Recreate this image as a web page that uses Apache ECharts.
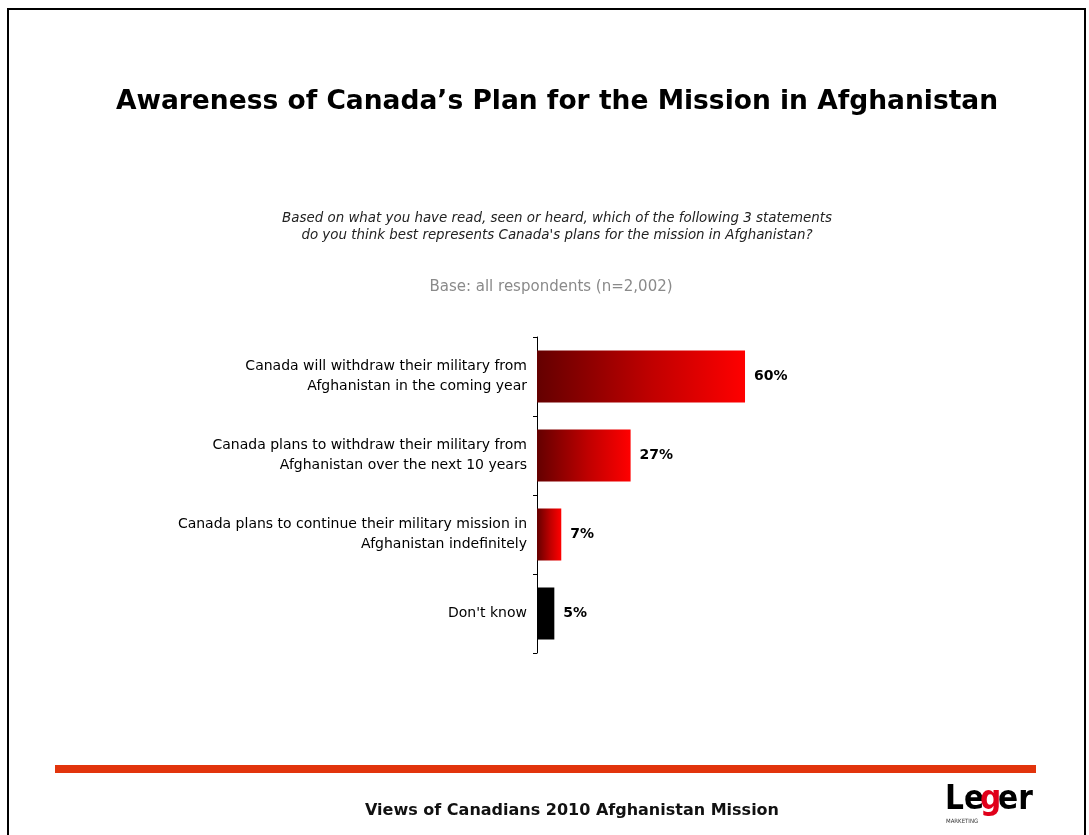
<!DOCTYPE html>
<html>
<head>
<meta charset="utf-8">
<script src="https://cdn.jsdelivr.net/npm/echarts@6/dist/echarts.min.js"></script>
<style>html,body{margin:0;padding:0;background:#fff}#c{width:1089px;height:835px}</style>
</head>
<body>
<div id="c"></div>
<script>
const categories = [
  "Canada will withdraw their military from\nAfghanistan in the coming year",
  "Canada plans to withdraw their military from\nAfghanistan over the next 10 years",
  "Canada plans to continue their military mission in\nAfghanistan indefinitely",
  "Don't know"
];
const values = [60, 27, 7, 5];
const barKinds = ["gradient", "gradient", "gradient", "black"];

const chart = echarts.init(document.getElementById('c'));
const grad = () => new echarts.graphic.LinearGradient(0, 0, 1, 0, [
  {offset: 0, color: '#640000'}, {offset: 0.55, color: '#c00000'}, {offset: 1, color: '#ff0000'}
]);
const seriesData = values.map((v, i) => ({
  value: v,
  itemStyle: {color: barKinds[i] === 'black' ? '#000000' : grad()}
}));

chart.setOption({
  animation: false,
  backgroundColor: '#ffffff',
  title: [
    {text: "Awareness of Canada\u2019s Plan for the Mission in Afghanistan", left: 552, top: 84, textAlign: 'center',
     textStyle: {fontFamily: 'DejaVu Sans', fontWeight: 'bold', fontSize: 26.5, color: '#000'}},
    {text: "Based on what you have read, seen or heard, which of the following 3 statements\ndo you think best represents Canada's plans for the mission in Afghanistan?",
     left: 552, top: 205, textAlign: 'center',
     textStyle: {fontFamily: 'DejaVu Sans', fontStyle: 'italic', fontWeight: 'normal', fontSize: 13.4, lineHeight: 17, color: '#222', align: 'center'}},
    {text: "Base: all respondents (n=2,002)", left: 546, top: 275, textAlign: 'center',
     textStyle: {fontFamily: 'DejaVu Sans', fontWeight: 'normal', fontSize: 15, color: '#8a8a8a'}},
    {text: "Views of Canadians 2010 Afghanistan Mission", left: 567, top: 798, textAlign: 'center',
     textStyle: {fontFamily: 'DejaVu Sans', fontWeight: 'bold', fontSize: 16, color: '#111'}}
  ],
  grid: {left: 537, top: 337, width: 346.7, height: 316, containLabel: false},
  xAxis: {type: 'value', min: 0, max: 100, show: false},
  yAxis: {
    type: 'category', data: categories, inverse: true,
    axisLine: {show: true, lineStyle: {color: '#000', width: 1}},
    axisTick: {show: true, length: 4, lineStyle: {color: '#000'}},
    axisLabel: {fontFamily: 'DejaVu Sans', fontSize: 14, lineHeight: 20, color: '#000', align: 'right', margin: 10}
  },
  series: [{
    type: 'bar', data: seriesData, barWidth: 52,
    label: {show: true, position: 'right', distance: 9, formatter: '{c}%',
            fontFamily: 'DejaVu Sans', fontWeight: 'bold', fontSize: 14, color: '#000'}
  }],
  graphic: [
    {type: 'rect', shape: {x: 8, y: 9, width: 1077, height: 840}, style: {fill: 'none', stroke: '#000', lineWidth: 2}, silent: true},
    {type: 'rect', shape: {x: 55, y: 765, width: 981, height: 8}, style: {fill: '#e2340c'}, silent: true},
    {type: 'text', left: 945, top: 784, style: {text: 'Le', fontFamily: 'Liberation Sans Narrow, DejaVu Sans Condensed, DejaVu Sans', fontWeight: 'bold', fontSize: 33, fill: '#000'}},
    {type: 'text', left: 980, top: 784, style: {text: 'g', fontFamily: 'Liberation Sans Narrow, DejaVu Sans Condensed, DejaVu Sans', fontWeight: 'bold', fontSize: 33, fill: '#e0001a'}},
    {type: 'text', left: 998, top: 784, style: {text: 'er', fontFamily: 'Liberation Sans Narrow, DejaVu Sans Condensed, DejaVu Sans', fontWeight: 'bold', fontSize: 33, fill: '#000'}},
    {type: 'text', left: 946, top: 818, style: {text: 'MARKETING', fontFamily: 'DejaVu Sans Condensed, DejaVu Sans', fontSize: 6, fill: '#333'}}
  ]
});
</script>
</body>
</html>
